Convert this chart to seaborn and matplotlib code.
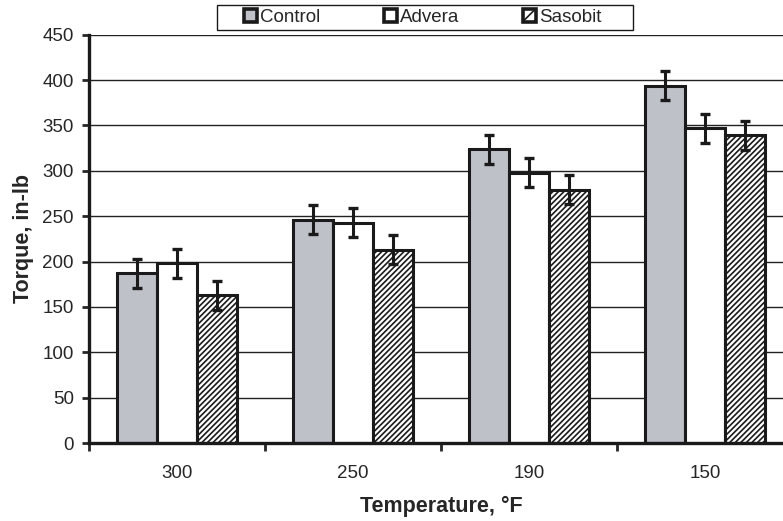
import pandas as pd
import matplotlib.pyplot as plt
import seaborn as sns
from matplotlib.patches import Rectangle

temps = ['300', '250', '190', '150']
mixes = ['Control', 'Advera', 'Sasobit']
control = [187, 246, 324, 394]
advera = [198, 243, 298, 347]
sasobit = [163, 213, 279, 339]
err_control = [16, 16, 16, 16]
err_advera = [16, 16, 16, 16]
err_sasobit = [16, 16, 16, 16]

df = pd.DataFrame({
    'temp': temps * 3,
    'mix': [m for m in mixes for _ in temps],
    'torque': control + advera + sasobit,
})
errs = [err_control, err_advera, err_sasobit]

sns.set_style('white')
plt.rcParams['font.family'] = ['Liberation Sans', 'DejaVu Sans']
plt.rcParams['hatch.linewidth'] = 1.2

fig = plt.figure(figsize=(7.83, 5.21), dpi=100)
ax = fig.add_axes([0.1137, 0.1497, 0.8991, 0.7837])

sns.barplot(data=df, x='temp', y='torque', hue='mix', order=temps, hue_order=mixes,
            palette=['#bfc1c9', 'white', 'white'], width=0.68, errorbar=None,
            edgecolor='#1a1a1a', linewidth=2.2, saturation=1, ax=ax, zorder=3)

# hatch the Sasobit bars and add the error bars
bar_groups = list(ax.containers)
for i, cont in enumerate(bar_groups):
    for j, bar in enumerate(cont):
        if i == 2:
            bar.set_hatch('//////')
        x = bar.get_x() + bar.get_width() / 2
        ax.errorbar(x, bar.get_height(), yerr=errs[i][j], color='#1a1a1a',
                    lw=2.2, capsize=3.6, capthick=2.4, zorder=4)

ax.set_ylim(0, 450)
ax.set_yticks(range(0, 451, 50))
ax.set_xlim(-0.5, 3.5)
ax.set_xticks([-0.5, 0.5, 1.5, 2.5, 3.5], minor=True)
ax.tick_params(axis='x', which='major', length=0, labelsize=13.5, pad=16)
ax.tick_params(axis='x', which='minor', length=6, width=2, direction='out', bottom=True)
ax.tick_params(axis='y', length=5, width=2, direction='out', left=True, labelsize=13.5, pad=6)
ax.yaxis.grid(True, color='#222222', lw=1.0, zorder=0)
ax.set_axisbelow(True)

for s in ['top', 'right']:
    ax.spines[s].set_visible(False)
for s in ['left', 'bottom']:
    ax.spines[s].set_linewidth(2.4)
    ax.spines[s].set_color('#1a1a1a')
ax.spines['bottom'].set_zorder(5)

ax.set_xlabel('Temperature, °F', fontsize=15.5, fontweight='bold', labelpad=10)
ax.set_ylabel('Torque, in-lb', fontsize=15.5, fontweight='bold', labelpad=6)

handles, labels = ax.get_legend_handles_labels()
leg = ax.legend(handles[:3], labels[:3], loc='center', bbox_to_anchor=(0.54, 0.967),
                bbox_transform=fig.transFigure, ncol=3, frameon=False,
                prop={'family': ['Liberation Sans Narrow', 'Liberation Sans'], 'size': 13.5},
                handlelength=0.7, handleheight=0.7, handletextpad=0.15, columnspacing=3.4,
                borderpad=0.1, borderaxespad=0)
for k, h in enumerate(leg.legend_handles):
    h.set_linewidth(2.6)
    h.set_edgecolor('#1a1a1a')
    if k == 2:
        h.set_hatch('///')

# legend box, wider than the entries
fig.patches.append(Rectangle((217 / 783, 1 - 30 / 521), 416 / 783, 25 / 521,
                             transform=fig.transFigure, fill=False,
                             edgecolor='#1a1a1a', lw=1.0))

plt.savefig('out.png', dpi=100)
